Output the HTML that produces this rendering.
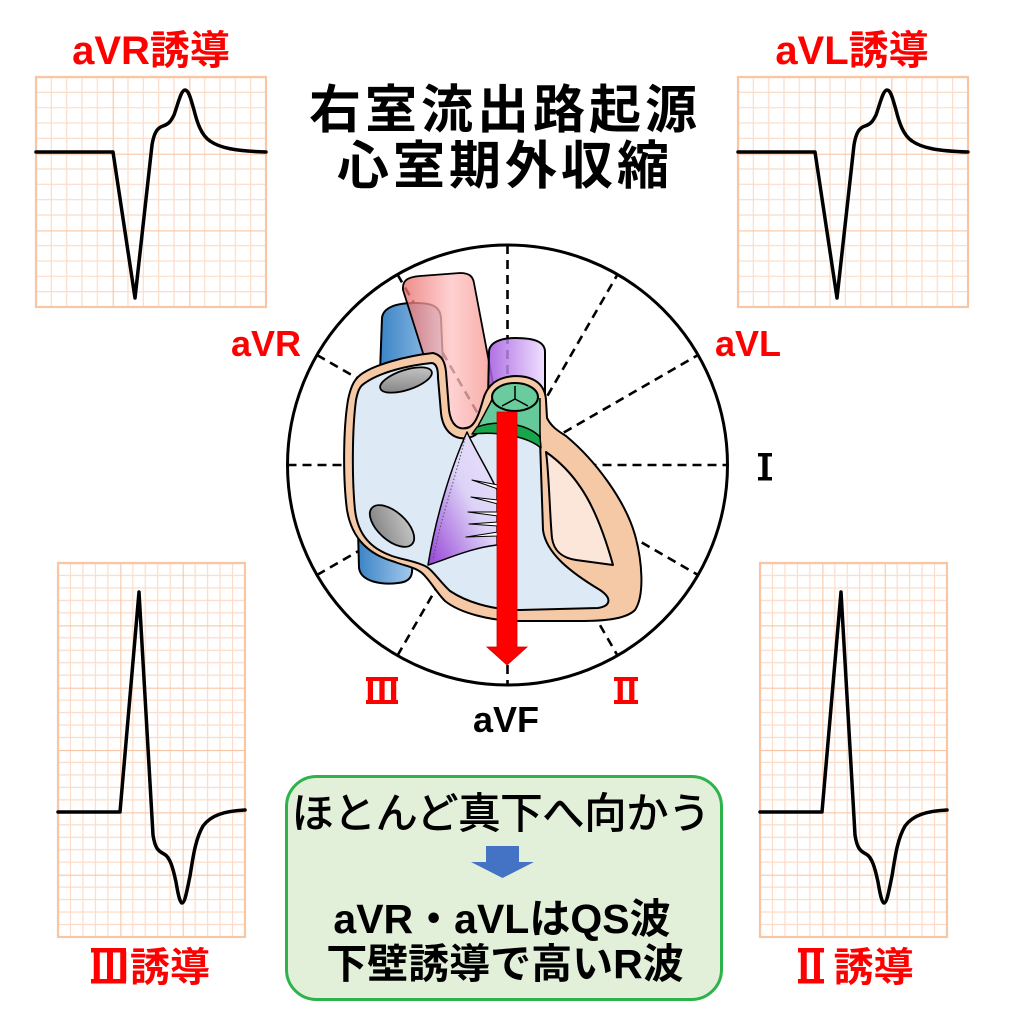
<!DOCTYPE html>
<html><head><meta charset="utf-8">
<style>
html,body{margin:0;padding:0;background:#fff;}
svg{display:block;}
text{font-family:"Liberation Sans","Noto Sans CJK JP",sans-serif;}
.cjk{font-family:"Noto Sans CJK JP","Liberation Sans",sans-serif;}
</style></head>
<body>
<svg width="1014" height="1024" viewBox="0 0 1014 1024" xmlns="http://www.w3.org/2000/svg">
<defs>
  <pattern id="gTop" patternUnits="userSpaceOnUse" x="36" y="77" width="76.667" height="76.667">
    <g stroke="#fcdcc8" stroke-width="1.2">
      <line x1="15.33" y1="0" x2="15.33" y2="76.667"/><line x1="30.67" y1="0" x2="30.67" y2="76.667"/>
      <line x1="46" y1="0" x2="46" y2="76.667"/><line x1="61.33" y1="0" x2="61.33" y2="76.667"/>
      <line y1="15.33" x1="0" y2="15.33" x2="76.667"/><line y1="30.67" x1="0" y2="30.67" x2="76.667"/>
      <line y1="46" x1="0" y2="46" x2="76.667"/><line y1="61.33" x1="0" y2="61.33" x2="76.667"/>
    </g>
    <g stroke="#f8c6a4" stroke-width="2.2">
      <line x1="0" y1="0" x2="0" y2="76.667"/><line x1="0" y1="0" x2="76.667" y2="0"/>
    </g>
  </pattern>
  <pattern id="gTopR" patternUnits="userSpaceOnUse" x="738" y="77" width="76.667" height="76.667">
    <g stroke="#fcdcc8" stroke-width="1.2">
      <line x1="15.33" y1="0" x2="15.33" y2="76.667"/><line x1="30.67" y1="0" x2="30.67" y2="76.667"/>
      <line x1="46" y1="0" x2="46" y2="76.667"/><line x1="61.33" y1="0" x2="61.33" y2="76.667"/>
      <line y1="15.33" x1="0" y2="15.33" x2="76.667"/><line y1="30.67" x1="0" y2="30.67" x2="76.667"/>
      <line y1="46" x1="0" y2="46" x2="76.667"/><line y1="61.33" x1="0" y2="61.33" x2="76.667"/>
    </g>
    <g stroke="#f8c6a4" stroke-width="2.2">
      <line x1="0" y1="0" x2="0" y2="76.667"/><line x1="0" y1="0" x2="76.667" y2="0"/>
    </g>
  </pattern>
  <pattern id="gBot" patternUnits="userSpaceOnUse" x="58" y="563" width="62.33" height="62.33">
    <g stroke="#fcdcc8" stroke-width="1.2">
      <line x1="12.47" y1="0" x2="12.47" y2="62.33"/><line x1="24.93" y1="0" x2="24.93" y2="62.33"/>
      <line x1="37.4" y1="0" x2="37.4" y2="62.33"/><line x1="49.87" y1="0" x2="49.87" y2="62.33"/>
      <line y1="12.47" x1="0" y2="12.47" x2="62.33"/><line y1="24.93" x1="0" y2="24.93" x2="62.33"/>
      <line y1="37.4" x1="0" y2="37.4" x2="62.33"/><line y1="49.87" x1="0" y2="49.87" x2="62.33"/>
    </g>
    <g stroke="#f8c6a4" stroke-width="2.2">
      <line x1="0" y1="0" x2="0" y2="62.33"/><line x1="0" y1="0" x2="62.33" y2="0"/>
    </g>
  </pattern>
  <pattern id="gBotR" patternUnits="userSpaceOnUse" x="760" y="563" width="62.33" height="62.33">
    <g stroke="#fcdcc8" stroke-width="1.2">
      <line x1="12.47" y1="0" x2="12.47" y2="62.33"/><line x1="24.93" y1="0" x2="24.93" y2="62.33"/>
      <line x1="37.4" y1="0" x2="37.4" y2="62.33"/><line x1="49.87" y1="0" x2="49.87" y2="62.33"/>
      <line y1="12.47" x1="0" y2="12.47" x2="62.33"/><line y1="24.93" x1="0" y2="24.93" x2="62.33"/>
      <line y1="37.4" x1="0" y2="37.4" x2="62.33"/><line y1="49.87" x1="0" y2="49.87" x2="62.33"/>
    </g>
    <g stroke="#f8c6a4" stroke-width="2.2">
      <line x1="0" y1="0" x2="0" y2="62.33"/><line x1="0" y1="0" x2="62.33" y2="0"/>
    </g>
  </pattern>
  <linearGradient id="blueG" x1="0" y1="0" x2="1" y2="0">
    <stop offset="0" stop-color="#3b84c6"/><stop offset="1" stop-color="#a3c9ec"/>
  </linearGradient>
  <linearGradient id="redG" x1="0" y1="0" x2="1" y2="0">
    <stop offset="0" stop-color="#e86e6a"/><stop offset="0.5" stop-color="#ffc4c4"/><stop offset="1" stop-color="#f28c84"/>
  </linearGradient>
  <linearGradient id="purG" x1="0" y1="0" x2="1" y2="0">
    <stop offset="0" stop-color="#a055de"/><stop offset="1" stop-color="#eddcff"/>
  </linearGradient>
  <linearGradient id="leafG" x1="0" y1="1" x2="1" y2="0">
    <stop offset="0" stop-color="#9542d6"/><stop offset="0.55" stop-color="#ddd3f7"/><stop offset="1" stop-color="#e8e4fa"/>
  </linearGradient>
  <linearGradient id="grayG" x1="0" y1="1" x2="1" y2="0">
    <stop offset="0" stop-color="#7a7a7a"/><stop offset="1" stop-color="#cfcfcf"/>
  </linearGradient>
</defs>

<!-- ECG grids -->
<rect x="36" y="77" width="230" height="230" fill="url(#gTop)" stroke="#f8c6a4" stroke-width="2.2"/>
<rect x="738" y="77" width="230" height="230" fill="url(#gTopR)" stroke="#f8c6a4" stroke-width="2.2"/>
<rect x="58" y="563" width="187" height="374" fill="url(#gBot)" stroke="#f8c6a4" stroke-width="2.2"/>
<rect x="760" y="563" width="187" height="374" fill="url(#gBotR)" stroke="#f8c6a4" stroke-width="2.2"/>

<!-- ECG traces -->
<g fill="none" stroke="#000" stroke-width="3.5" stroke-linejoin="round" stroke-linecap="round">
  <path d="M36,152 L113,152 L135,298 L152,145 C154,133 157,128 163,126 C169,124 171,121 174,115 C178,104 181,90 185,90 C189,90 191,100 194,110 C197,122 201,135 210,141 C220,148 235,151 266,152"/>
  <path transform="translate(702,0)" d="M36,152 L113,152 L135,298 L152,145 C154,133 157,128 163,126 C169,124 171,121 174,115 C178,104 181,90 185,90 C189,90 191,100 194,110 C197,122 201,135 210,141 C220,148 235,151 266,152"/>
  <path d="M58,812 L120,812 L139,592 L153,835 C155,848 158,851 164,854 C170,857 173,868 176,882 C178,894 180,903 182,903 C185,903 187,890 190,876 C193,858 195,840 203,826 C211,815 225,811 245,810"/>
  <path transform="translate(702,0)" d="M58,812 L120,812 L139,592 L153,835 C155,848 158,851 164,854 C170,857 173,868 176,882 C178,894 180,903 182,903 C185,903 187,890 190,876 C193,858 195,840 203,826 C211,815 225,811 245,810"/>
</g>

<!-- Lead labels for ECGs -->
<g font-weight="bold" fill="#ff0000" font-size="40" text-anchor="middle">
  <text x="151" y="64">aVR誘導</text>
  <text x="852" y="64">aVL誘導</text>
  <text x="150" y="981" class="cjk">Ⅲ誘導</text>
  <text x="852" y="981" class="cjk">Ⅱ<tspan font-size="14"> </tspan>誘導</text>
</g>
<!-- roman numeral bars (bottom labels) -->
<g fill="#ff0000">
  <rect x="91" y="948" width="35" height="4.5"/>
  <rect x="91" y="979" width="35" height="4.5"/>
  <rect x="798" y="948" width="26" height="4.5"/>
  <rect x="798" y="979" width="26" height="4.5"/>
</g>

<!-- Title -->
<g font-weight="bold" fill="#000" font-size="52" text-anchor="middle" style="letter-spacing:4px">
  <text x="505" y="128">右室流出路起源</text>
  <text x="505" y="184">心室期外収縮</text>
</g>

<!-- Axis circle -->
<g stroke="#000" stroke-width="2.6" stroke-dasharray="9 6" fill="none">
  <line x1="287.5" y1="465" x2="727.5" y2="465"/>
  <line x1="507.5" y1="245" x2="507.5" y2="685"/>
  <line x1="317" y1="355" x2="698" y2="575"/>
  <line x1="317" y1="575" x2="698" y2="355"/>
  <line x1="397.5" y1="274.5" x2="617.5" y2="655.5"/>
  <line x1="397.5" y1="655.5" x2="617.5" y2="274.5"/>
</g>
<circle cx="507.5" cy="465" r="220" fill="none" stroke="#000" stroke-width="3"/>

<!-- Heart -->
<g stroke="#000" stroke-width="2" stroke-linejoin="round">
  <path d="M358,530 L359,568 C361,582 382,585 398,583 C410,582 413,576 412,566 L410,530 Z" fill="url(#blueG)"/>
  <path d="M380,372 L382,318 C383,308 395,303 415,303 C432,303 440,306 441,318 L443,365 Z" fill="url(#blueG)"/>
  <path d="M403,290 C402,280 408,277 420,276 L460,273 C470,273 473,277 474,283 L500,420 L448,432 Z" fill="url(#redG)" fill-opacity="0.78" stroke-width="1.8"/>
  <path d="M488,398 L489,352 C489,343 500,338 515,338 C535,338 545,342 545,352 L545,402 Z" fill="url(#purG)" fill-opacity="0.85"/>
  <path d="M363,373 C375,365 405,356 433,353 C442,355 445,362 446,372 L449,410 C451,425 458,430 467,428 C476,426 480,410 483,400 C487,385 497,377 515,376 C535,376 545,385 546,400 L547,418 C552,428 560,432 566,436 C595,460 625,500 635,535 C642,560 645,595 635,610 C625,620 600,621 580,621 L520,621 C490,621 460,613 445,601 C436,592 430,580 422,573 C415,567 405,566 395,562 C370,555 352,540 347,510 C343,480 343,430 348,400 C351,385 355,378 363,373 Z" fill="#f6c9a6"/>
  <path d="M365,383 C380,372 410,365 432,363 C437,364 438,370 438,378 L441,413 C443,432 455,440 467,438 C482,436 487,420 490,405 C494,392 503,388 515,388 C530,388 537,395 538,405 L540,440 L543,530 C546,553 570,572 600,590 C612,598 611,606 598,608 L520,610 C490,610 465,601 450,591 C440,582 432,569 425,566 C415,561 400,559 392,556 C372,549 358,536 355,510 C352,480 352,430 356,400 C358,390 360,386 365,383 Z" fill="#dde9f5"/>
  <path d="M546,452 C549,472 550,520 552,538 C554,552 563,558 576,560 L613,565 C606,540 596,510 581,488 C569,470 556,459 546,452 Z" fill="#fbe6d9"/>
  <path d="M493,398 L478,426 C500,422 525,425 540,438 L540,398 Z" fill="#66c99a" stroke="none"/>
  <path d="M477,427 C498,419 528,424 540,437 L541,448 C528,437 500,431 472,434 Z" fill="#17a64a" stroke-width="1.5"/>
  <path d="M493,398 L478,426 M540,398 L540,438" fill="none" stroke-width="1.5"/>
  <ellipse cx="515" cy="397" rx="23" ry="14" fill="#6acb9c"/>
  <path d="M515,399 L515,386 M515,399 L502,406 M515,399 L528,406" fill="none" stroke-width="1.5"/>
  <path d="M467,432 C452,465 436,515 428,565 C445,560 470,548 497,545 L497,490 C488,470 475,450 467,432 Z" fill="url(#leafG)" stroke-width="1.5"/>
  <path d="M465,438 C455,480 440,520 433,560" fill="none" stroke="#555" stroke-width="1" stroke-dasharray="1.5 2"/>
  <g fill="#fff" stroke-width="1.1">
    <path d="M472,480 L498,485 L498,489 Z"/>
    <path d="M471,497 L498,500 L498,504 Z"/>
    <path d="M468,512 L498,512 L498,516 Z"/>
    <path d="M469,524 L498,522 L498,526 Z"/>
    <path d="M466,537 L498,532 L498,536 Z"/>
  </g>
  <ellipse cx="406" cy="380" rx="27" ry="10" transform="rotate(-18 406 380)" fill="url(#grayG)" stroke-width="1.8"/>
  <ellipse cx="392" cy="526" rx="27" ry="14" transform="rotate(42 392 526)" fill="url(#grayG)" stroke-width="1.8"/>
</g>

<!-- Red arrow -->
<path d="M497,412 L517,412 L517,647 L527,647 L507,665 L487,647 L497,647 Z" fill="#ff0000" stroke="#d00000" stroke-width="0.8"/>

<!-- Axis labels -->
<g font-weight="bold" text-anchor="middle">
  <text x="266" y="356" font-size="36" fill="#ff0000">aVR</text>
  <text x="748" y="356" font-size="36" fill="#ff0000">aVL</text>
  <text x="506" y="732" font-size="36" fill="#000">aVF</text>
  <text x="382" y="703" font-size="35" fill="#ff0000" class="cjk">Ⅲ</text>
  <text x="626" y="703" font-size="35" fill="#ff0000" class="cjk">Ⅱ</text>
  <text x="765" y="479" font-size="35" fill="#000" class="cjk">Ⅰ</text>
</g>
<!-- roman numeral bars (axis labels) -->
<g fill="#ff0000">
  <rect x="366" y="677" width="32" height="4"/>
  <rect x="366" y="700" width="32" height="4"/>
  <rect x="614" y="677" width="24" height="4"/>
  <rect x="614" y="700" width="24" height="4"/>
</g>
<g fill="#000">
  <rect x="758" y="453" width="14" height="3.5"/>
  <rect x="758" y="477" width="14" height="3.5"/>
</g>

<!-- Summary box -->
<rect x="286.5" y="776.5" width="435" height="223" rx="30" ry="30" fill="#e2efd9" stroke="#2eb24b" stroke-width="3"/>
<text x="501" y="828" font-size="42" text-anchor="middle" fill="#000" stroke="#000" stroke-width="0.9">ほとんど真下へ向かう</text>
<path d="M486,846 L519,846 L519,862 L534,862 L502.5,878 L471,862 L486,862 Z" fill="#4472c4"/>
<g font-weight="bold" font-size="41" text-anchor="middle" fill="#000">
  <text x="502" y="933">aVR・aVLはQS波</text>
  <text x="505" y="978">下壁誘導で高いR波</text>
</g>
</svg>
</body></html>
